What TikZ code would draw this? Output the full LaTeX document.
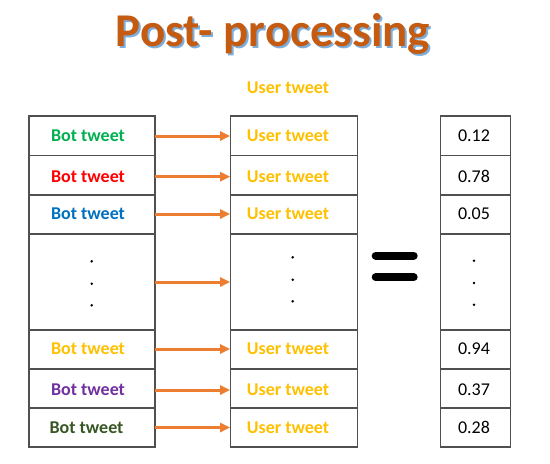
\documentclass[tikz,border=0pt]{standalone}
\usepackage{fontspec}
\setmainfont{Carlito}
\usetikzlibrary{arrows.meta}
\definecolor{tgreen}{HTML}{00B050}
\definecolor{tred}{HTML}{FF0000}
\definecolor{tblue}{HTML}{0070C0}
\definecolor{tgold}{HTML}{FFC000}
\definecolor{tpurple}{HTML}{7030A0}
\definecolor{tdkgreen}{HTML}{375623}
\definecolor{torange}{HTML}{ED7D31}
\definecolor{ttitle}{HTML}{C55A11}
\definecolor{tshadow}{HTML}{5B9BD5}
\definecolor{tline}{HTML}{505050}
\tikzset{
  cell/.style={draw=tline, line width=1.3pt, minimum width=#1, inner sep=0pt, outer sep=0pt},
  txt/.style={font=\fontsize{18}{18}\selectfont\bfseries, inner sep=0pt},
  num/.style={font=\fontsize{18}{18}\selectfont, inner sep=0pt},
  flow/.style={draw=torange, line width=3pt, -{Triangle[length=10pt,width=9pt]}, shorten >=0pt},
  dotmark/.style={circle, fill=black, inner sep=0pt, minimum size=2.8pt},
  eqbar/.style={line width=8pt, line cap=round, black}
}
\begin{document}
\begin{tikzpicture}[x=1pt,y=-1pt]
\useasboundingbox (0,0) rectangle (550,464);
% title with shadow
\node[anchor=base, text=tshadow, opacity=0.8, font=\fontsize{47}{47}\selectfont\bfseries] (titleshadow) at (275,48.5) {Post- processing};
\node[anchor=base, text=ttitle, font=\fontsize{47}{47}\selectfont\bfseries] (title) at (273,46.5) {Post- processing};
\node[txt, text=tgold] (header) at (288,88) {User tweet};
% left column cells
\foreach \n/\ya/\yb in {1/116/155.5, 2/155.5/195, 3/195/234, 4/234/330, 5/330/369, 6/369/408, 7/408/447}{
  \node[cell=126pt, minimum height={\yb-\ya}] (l\n) at (92,{(\ya+\yb)/2}) {};
  \node[cell=127pt, minimum height={\yb-\ya}] (m\n) at (293.7,{(\ya+\yb)/2}) {};
  \node[cell=70.5pt, minimum height={\yb-\ya}] (r\n) at (475.5,{(\ya+\yb)/2}) {};
}
% left texts
\node[txt, text=tgreen] (lt1) at (88,136) {Bot tweet};
\node[txt, text=tred] (lt2) at (88,176.7) {Bot tweet};
\node[txt, text=tblue] (lt3) at (88,214) {Bot tweet};
\node[txt, text=tgold] (lt5) at (88,349) {Bot tweet};
\node[txt, text=tpurple] (lt6) at (88,390) {Bot tweet};
\node[txt, text=tdkgreen] (lt7) at (86.5,427.5) {Bot tweet};
% middle texts
\foreach \n/\y in {1/136, 2/176.7, 3/214, 5/349, 6/390, 7/427.5}{
  \node[txt, text=tgold] (mt\n) at (288,\y) {User tweet};
}
% right numbers
\node[num] (rt1) at (474,136) {0.12};
\node[num] (rt2) at (474,176.7) {0.78};
\node[num] (rt3) at (474,214) {0.05};
\node[num] (rt5) at (474,349) {0.94};
\node[num] (rt6) at (474,390) {0.37};
\node[num] (rt7) at (474,427.5) {0.28};
% dots
\foreach \y [count=\i] in {261.3,283.7,305.3}{
  \node[dotmark] (ld\i) at (91.7,\y) {};
}
\foreach \y [count=\i] in {257.3,279.7,301.3}{
  \node[dotmark] (md\i) at (292.7,\y) {};
}
\foreach \y [count=\i] in {260.7,283,304.7}{
  \node[dotmark] (rd\i) at (474,\y) {};
}
% arrows
\draw[flow] (l1.east |- lt1) -- (m1.west |- lt1);
\draw[flow] (l2.east |- lt2) -- (m2.west |- lt2);
\draw[flow] (l3.east |- lt3) -- (m3.west |- lt3);
\draw[flow] (l4.east) -- (m4.west);
\draw[flow] (l5.east |- lt5) -- (m5.west |- lt5);
\draw[flow] (l6.east |- lt6) -- (m6.west |- lt6);
\draw[flow] (l7.east |- lt7) -- (m7.west |- lt7);
% equals sign
\draw[eqbar] (375.7,255.7) -- (413.7,255.7);
\draw[eqbar] (375.7,277.3) -- (413.7,277.3);
\end{tikzpicture}
\end{document}
